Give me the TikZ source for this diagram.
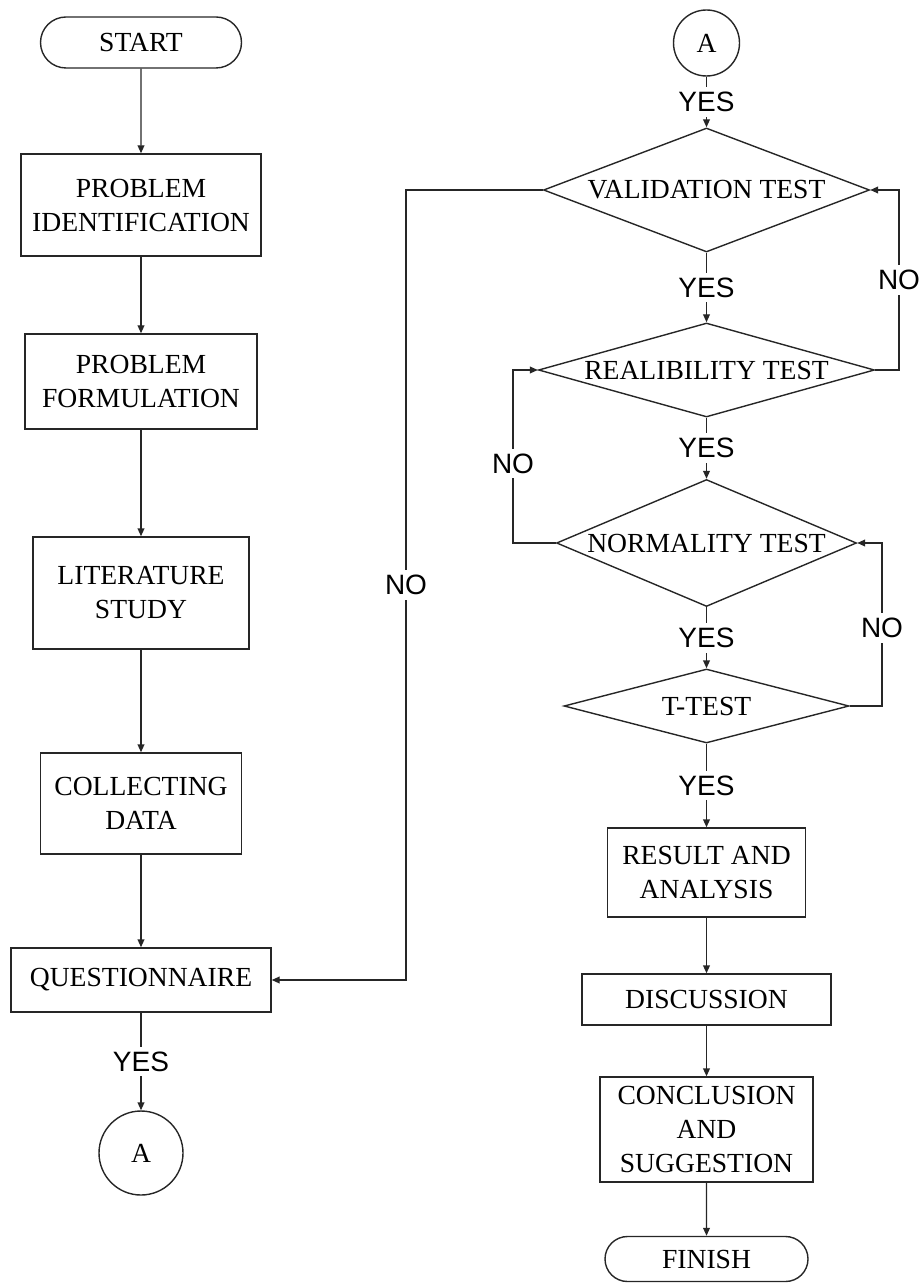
\documentclass[tikz,border=0pt]{standalone}
\usepackage{fontspec}
\setmainfont{Liberation Serif}
\newfontfamily\labelfont{Liberation Sans}
\usetikzlibrary{shapes.geometric,shapes.misc,arrows.meta}

\begin{document}
\begin{tikzpicture}[
  x=0.5pt,
  y=-0.5pt,
  box/.style={draw=black!85,line width=0.7pt,rectangle,inner sep=0pt,align=center,font=\fontsize{13.8}{17}\selectfont},
  term/.style={draw=black!85,line width=0.7pt,rounded rectangle,inner sep=0pt,font=\fontsize{13.8}{17}\selectfont},
  test/.style={draw=black!85,line width=0.7pt,diamond,inner sep=0pt,font=\fontsize{13.8}{17}\selectfont},
  conn/.style={draw=black!85,line width=0.7pt,circle,inner sep=0pt,font=\fontsize{13.8}{17}\selectfont},
  flow/.style={draw=black!85,line width=0.7pt,-{Triangle[length=4pt,width=3.4pt]}},
  answer/.style={fill=white,inner sep=2.5pt,font=\labelfont\fontsize{14}{16}\selectfont}
]
  \useasboundingbox (0,0) rectangle (923,1283);

  % left column
  \node[term,minimum width=100.5pt,minimum height=25.5pt] (start) at (141,42.5) {START};
  \node[box,minimum width=120pt,minimum height=51pt] (ident) at (141,205) {PROBLEM\\IDENTIFICATION};
  \node[box,minimum width=116pt,minimum height=47.5pt] (form) at (141,381.5) {PROBLEM\\FORMULATION};
  \node[box,minimum width=108pt,minimum height=56pt] (lit) at (141,593) {LITERATURE\\STUDY};
  \node[box,minimum width=100.5pt,minimum height=50.5pt] (coll) at (141,803.5) {COLLECTING\\DATA};
  \node[box,minimum width=130pt,minimum height=32pt] (quest) at (141,980) {QUESTIONNAIRE};
  \node[conn,minimum size=42pt] (aout) at (141,1153) {A};

  % right column
  \node[conn,minimum size=33pt] (ain) at (706.5,43) {A};
  \node[test,minimum width=163pt,minimum height=62pt,aspect=2.6] (valid) at (706.5,190) {VALIDATION TEST};
  \node[test,minimum width=168pt,minimum height=47pt,aspect=3.6] (relia) at (706.5,370) {REALIBILITY TEST};
  \node[test,minimum width=150pt,minimum height=63.5pt,aspect=2.4] (norm) at (706.5,543) {NORMALITY TEST};
  \node[test,minimum width=142.5pt,minimum height=37pt,aspect=3.8] (ttest) at (706.5,706) {T-TEST};
  \node[box,minimum width=99pt,minimum height=44.5pt] (result) at (706.5,872.5) {RESULT AND\\ANALYSIS};
  \node[box,minimum width=124.5pt,minimum height=25.5pt] (disc) at (706.5,999.5) {DISCUSSION};
  \node[box,minimum width=106.5pt,minimum height=52.5pt] (concl) at (706.5,1129.5) {CONCLUSION\\AND\\SUGGESTION};
  \node[term,minimum width=101.5pt,minimum height=22.5pt] (finish) at (706.5,1259) {FINISH};

  \coordinate (noleft) at (406,0);
  \coordinate (loopa) at (513,0);
  \coordinate (loopb) at (899,0);
  \coordinate (loopc) at (882,0);

  \draw[flow] (start) -- (ident);
  \draw[flow] (ident) -- (form);
  \draw[flow] (form) -- (lit);
  \draw[flow] (lit) -- (coll);
  \draw[flow] (coll) -- (quest);
  \draw[flow] (quest) -- node[answer]{YES} (aout);

  \draw[flow] (ain) -- node[answer]{YES} (valid);
  \draw[flow] (valid) -- node[answer]{YES} (relia);
  \draw[flow] (relia) -- node[answer]{YES} (norm);
  \draw[flow] (norm) -- node[answer]{YES} (ttest);
  \draw[flow] (ttest) -- node[answer]{YES} (result);
  \draw[flow] (result) -- (disc);
  \draw[flow] (disc) -- (concl);
  \draw[flow] (concl) -- (finish);

  % loops back
  \draw[flow] (valid.west) -- (valid.west -| noleft) -- node[answer]{NO} (quest.east -| noleft) -- (quest.east);
  \draw[flow] (norm.west) -- (norm.west -| loopa) -- node[answer,pos=0.46]{NO} (relia.west -| loopa) -- (relia.west);
  \draw[flow] (relia.east) -- (relia.east -| loopb) -- node[answer]{NO} (valid.east -| loopb) -- (valid.east);
  \draw[flow] (ttest.east) -- (ttest.east -| loopc) -- node[answer,pos=0.48]{NO} (norm.east -| loopc) -- (norm.east);
\end{tikzpicture}
\end{document}
